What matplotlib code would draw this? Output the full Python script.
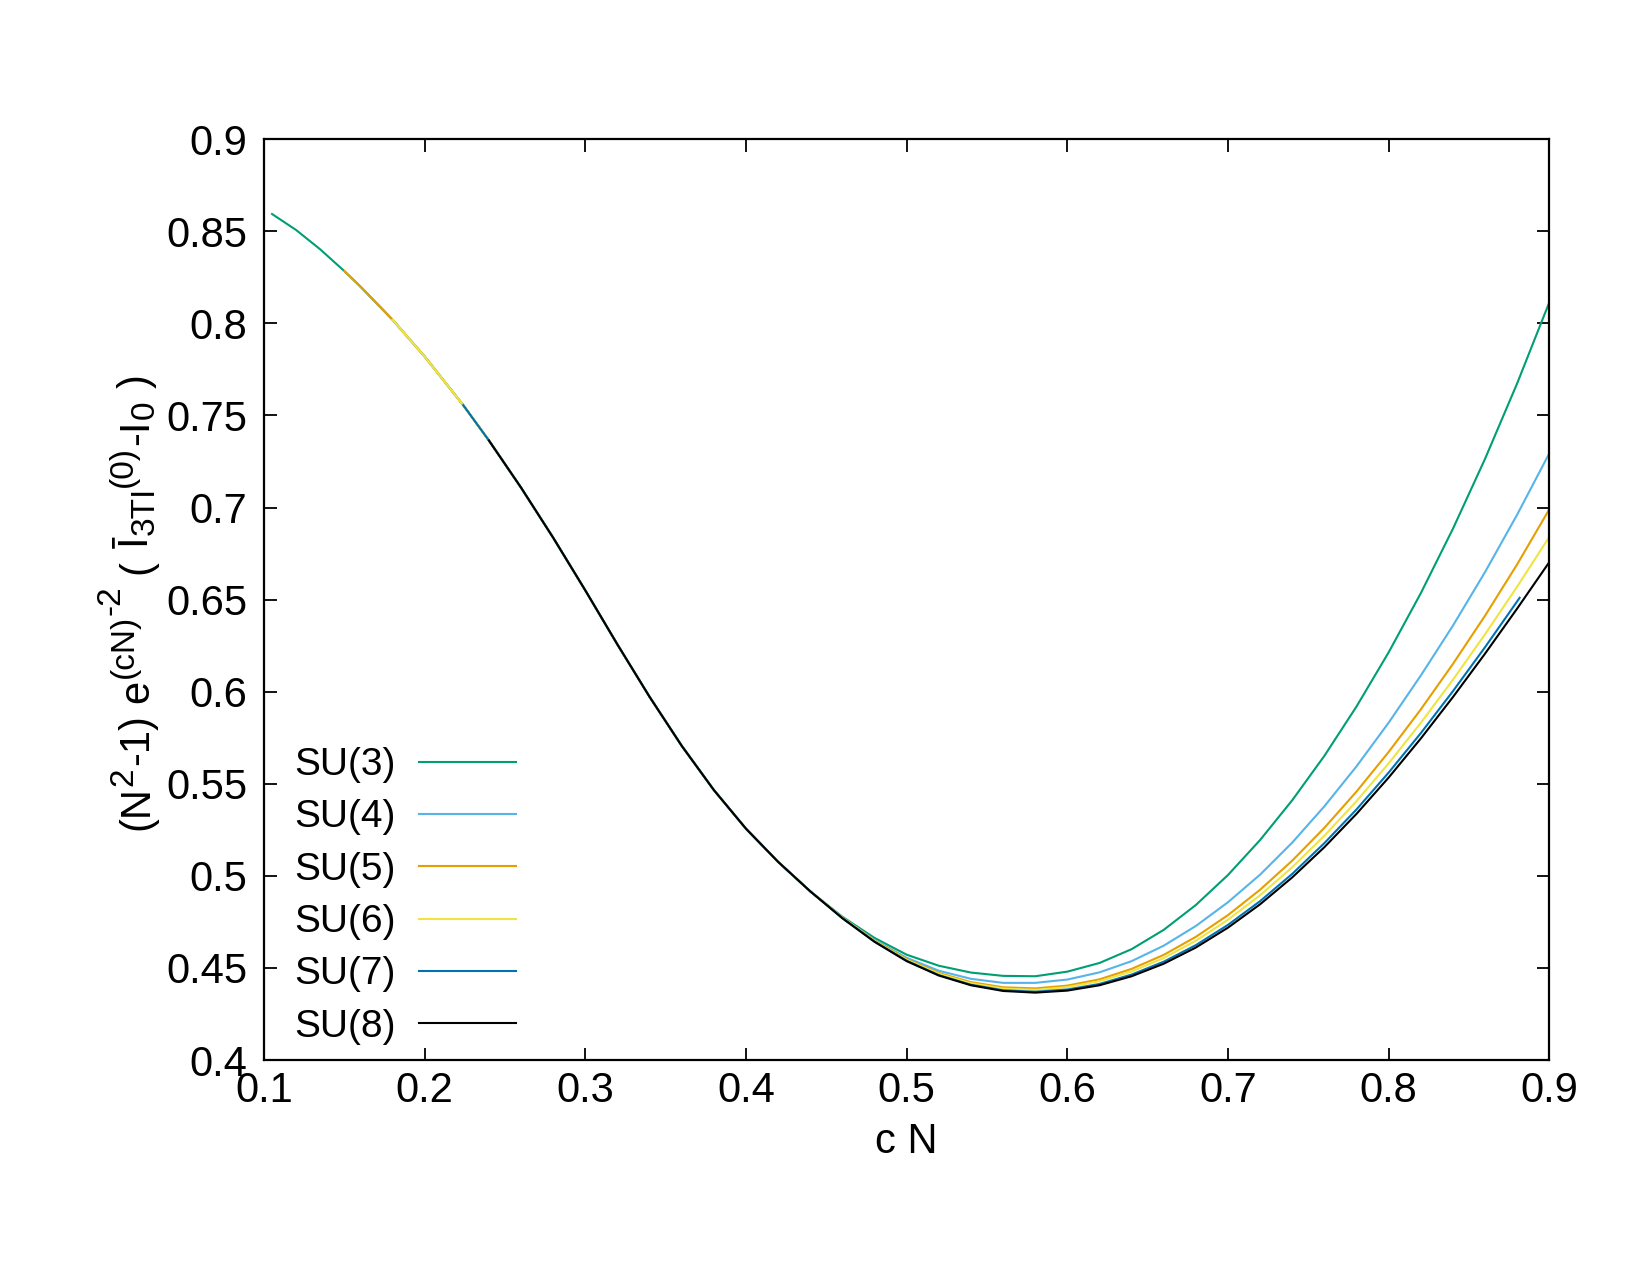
import numpy as np
import matplotlib
matplotlib.use('Agg')
import matplotlib.pyplot as plt
from matplotlib.ticker import FuncFormatter, MultipleLocator

plt.rcParams['font.family'] = ['Liberation Sans', 'DejaVu Sans']

W, H = 1650, 1275

# общая часть кривых (до ~0.45 все SU(N) совпадают)
common_x = [0.105, 0.12, 0.135, 0.15, 0.16, 0.18, 0.20, 0.224, 0.24, 0.26,
            0.28, 0.30, 0.32, 0.34, 0.36, 0.38, 0.40, 0.42, 0.44]
common_y = [0.8594, 0.8507, 0.8402, 0.8284, 0.8200, 0.8020, 0.7820, 0.7556, 0.7364, 0.7108,
            0.6836, 0.6550, 0.6256, 0.5972, 0.5706, 0.5466, 0.5256, 0.5076, 0.4916]

labels = ['SU(3)', 'SU(4)', 'SU(5)', 'SU(6)', 'SU(7)', 'SU(8)']
colors = ['#009e73', '#56b4e9', '#e69f00', '#f0e442', '#0072b2', '#000000']
start_idx = [0, 4, 3, 5, 7, 8]

# хвосты, где кривые расходятся
tail_x = [0.46, 0.48, 0.50, 0.52, 0.54, 0.56, 0.58, 0.60, 0.62, 0.64, 0.66, 0.68,
          0.70, 0.72, 0.74, 0.76, 0.78, 0.80, 0.82, 0.84, 0.86, 0.88, 0.90]
su3_y = [0.4778, 0.4663, 0.4572, 0.4512, 0.4475, 0.4457, 0.4455, 0.4480, 0.4527, 0.4602,
         0.4707, 0.4842, 0.5005, 0.5195, 0.5411, 0.5652, 0.5920, 0.6214, 0.6535, 0.6885,
         0.7265, 0.7675, 0.8115]
su4_y = [0.4775, 0.4652, 0.4555, 0.4485, 0.4441, 0.4419, 0.4419, 0.4437, 0.4476, 0.4537,
         0.4621, 0.4728, 0.4857, 0.5007, 0.5181, 0.5378, 0.5595, 0.5832, 0.6088, 0.6359,
         0.6650, 0.6962, 0.7295]
su5_y = [0.4773, 0.4649, 0.4548, 0.4473, 0.4423, 0.4395, 0.4389, 0.4404, 0.4438, 0.4495,
         0.4571, 0.4669, 0.4787, 0.4925, 0.5083, 0.5261, 0.5458, 0.5673, 0.5904, 0.6151,
         0.6413, 0.6692, 0.6991]
su6_y = [0.4772, 0.4646, 0.4544, 0.4468, 0.4417, 0.4388, 0.4381, 0.4396, 0.4428, 0.4481,
         0.4554, 0.4648, 0.4762, 0.4895, 0.5047, 0.5218, 0.5406, 0.5611, 0.5831, 0.6065,
         0.6312, 0.6571, 0.6841]
su7_x = tail_x[:22] + [0.8815]
su7_y = [0.4770, 0.4643, 0.4539, 0.4461, 0.4409, 0.4379, 0.4371, 0.4383, 0.4413, 0.4464,
         0.4534, 0.4624, 0.4734, 0.4863, 0.5011, 0.5178, 0.5361, 0.5561, 0.5775, 0.6003,
         0.6242, 0.6491, 0.6510]
su8_y = [0.4770, 0.4642, 0.4537, 0.4459, 0.4406, 0.4375, 0.4366, 0.4377, 0.4406, 0.4455,
         0.4523, 0.4611, 0.4719, 0.4846, 0.4992, 0.5156, 0.5337, 0.5534, 0.5746, 0.5971,
         0.6207, 0.6452, 0.6704]

tails = [(tail_x, su3_y), (tail_x, su4_y), (tail_x, su5_y),
         (tail_x, su6_y), (su7_x, su7_y), (tail_x, su8_y)]

fig = plt.figure(figsize=(W / 100, H / 100), dpi=100)
ax = fig.add_axes([0.160, 0.1686, 0.779, 0.7222])

for lab, col, i0, (tx, ty) in zip(labels, colors, start_idx, tails):
    xs = common_x[i0:] + list(tx)
    ys = common_y[i0:] + list(ty)
    ax.plot(xs, ys, color=col, lw=1.5, label=lab)

ax.set_xlim(0.1, 0.9)
ax.set_ylim(0.4, 0.9)
ax.xaxis.set_major_locator(MultipleLocator(0.1))
ax.yaxis.set_major_locator(MultipleLocator(0.05))
fmt = FuncFormatter(lambda v, p: '%g' % round(v, 4))
ax.xaxis.set_major_formatter(fmt)
ax.yaxis.set_major_formatter(fmt)
ax.tick_params(direction='in', length=9, width=1.3, labelsize=30,
               top=True, right=True)
ax.tick_params(axis='x', pad=8)
ax.tick_params(axis='y', pad=12)
for s in ax.spines.values():
    s.set_linewidth(1.6)

ax.set_xlabel('c N', fontsize=30, labelpad=8)

ax.legend(loc='lower left', bbox_to_anchor=(0.002, -0.013), frameon=False,
          markerfirst=False, fontsize=28, handlelength=2.5, handletextpad=0.6,
          labelspacing=0.42, borderaxespad=0.3)

# подпись оси y собирается по кускам (верхние/нижние индексы как в gnuplot)
# (текст, размер, сдвиг базовой линии в px, пробел после в px)
ylab_parts = [('(N', 30, 0, 0), ('2', 24, 16, 2), ('-1)', 30, 0, 12), ('e', 30, 0, 1),
              ('(cN)', 24, 15, 0), ('-2', 24, 29, 12), ('(', 30, 0, 12),
              ('\u012a', 30, 0, 1), ('3TI', 24, -6, 0), ('(0)', 24, 16, 1),
              ('-I', 30, 0, 1), ('0', 24, -6, 12), (')', 30, 0, 0)]
renderer = fig.canvas.get_renderer()
widths = []
for s, fs, dy, gap in ylab_parts:
    t = fig.text(0, 0, s, fontsize=fs)
    widths.append(t.get_window_extent(renderer).width)
    t.remove()
total = sum(widths) + sum(p[3] for p in ylab_parts)
x_base = 148
y_cur = (H - 602) - total / 2
for (s, fs, dy, gap), w in zip(ylab_parts, widths):
    fig.text((x_base - dy) / W, y_cur / H, s, fontsize=fs, rotation=90,
             rotation_mode='anchor', ha='left', va='baseline')
    y_cur += w + gap

fig.savefig('out.png', dpi=100)
